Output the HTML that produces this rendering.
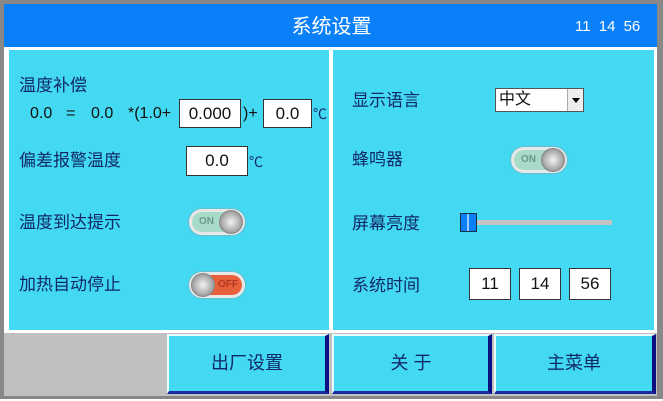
<!DOCTYPE html>
<html><head><meta charset="utf-8"><style>
*{margin:0;padding:0;box-sizing:border-box}
body{width:663px;height:401px;background:#fff;position:relative;overflow:hidden;font-family:"Liberation Sans","Noto Sans CJK SC",sans-serif;}
.a{position:absolute}
.t{position:absolute;color:#102868;font-size:17px;line-height:20px;white-space:nowrap}
.box{position:absolute;background:#fff;border:1px solid #333;color:#111;font-size:17px;text-align:center}
.tog{position:absolute;width:56px;height:26px;border-radius:13px;background:#e8e8e8;box-shadow:0 0 2px #999}
.tog .in{position:absolute;left:3px;top:3px;width:50px;height:20px;border-radius:10px}
.tog .k{position:absolute;top:1px;width:24px;height:24px;border-radius:12px;background:radial-gradient(circle at 50% 50%,#f4f4f4,#aaa 60%,#777);border:1px solid #888}
.tog .l{position:absolute;top:8px;font-size:10px;line-height:10px;font-weight:bold}
.btn{position:absolute;top:334px;height:60px;background:#44d9f2;border-left:2px solid #e8ffff;border-top:2px solid #e8ffff;border-right:4px solid #0a1080;border-bottom:3px solid #1a2aa0;color:#102868;font-size:18px;text-align:center;line-height:55px}
</style></head><body>
<div class="a" style="left:0;top:0;width:663px;height:399px;background:#888"></div>
<div class="a" style="left:4px;top:4px;width:653px;height:392px;background:#c0c0c0"></div>
<div class="a" style="left:4px;top:4px;width:653px;height:43px;background:#0a80f8"></div>
<div class="a" style="left:4px;top:47px;width:653px;height:286px;background:#fff"></div>
<div class="a" style="left:9px;top:50px;width:320px;height:280px;background:#44d9f2"></div>
<div class="a" style="left:333px;top:50px;width:321px;height:280px;background:#44d9f2"></div>
<div class="a" style="left:0;top:14px;width:663px;text-align:center;color:#fff;font-size:20px;line-height:26px">系统设置</div>
<div class="a" style="left:575px;top:18px;color:#fff;font-size:15px;line-height:18px;word-spacing:4px">11 14 56</div>

<div class="t" style="left:19px;top:76px">温度补偿</div>
<div class="t" style="left:30px;top:104px;color:#111;font-size:16px">0.0</div>
<div class="t" style="left:66px;top:104px;color:#111;font-size:16px">=</div>
<div class="t" style="left:91px;top:104px;color:#111;font-size:16px">0.0</div>
<div class="t" style="left:128px;top:104px;color:#111;font-size:16px">*(1.0+</div>
<div class="box" style="left:179px;top:99px;width:62px;height:29px;line-height:27px">0.000</div>
<div class="t" style="left:243px;top:104px;color:#111;font-size:16px">)+</div>
<div class="box" style="left:263px;top:99px;width:49px;height:29px;line-height:27px">0.0</div>
<div class="t" style="left:313px;top:104px;font-size:14px">℃</div>

<div class="t" style="left:19px;top:151px">偏差报警温度</div>
<div class="box" style="left:186px;top:146px;width:62px;height:30px;line-height:28px">0.0</div>
<div class="t" style="left:249px;top:152px;font-size:14px">℃</div>

<div class="t" style="left:19px;top:213px">温度到达提示</div>
<div class="tog" style="left:189px;top:209px"><div class="in" style="background:#a8dcc8"></div><div class="l" style="left:10px;color:#6a9a8a">ON</div><div class="k" style="left:30px"></div></div>

<div class="t" style="left:19px;top:275px">加热自动停止</div>
<div class="tog" style="left:189px;top:272px"><div class="in" style="background:#e8603a"></div><div class="l" style="left:29px;color:#b03820">OFF</div><div class="k" style="left:2px"></div></div>

<div class="t" style="left:352px;top:91px">显示语言</div>
<div class="a" style="left:495px;top:88px;width:89px;height:24px;background:#fff;border:1px solid #555;font-size:16px;line-height:22px;padding-left:3px;color:#111">中文</div>
<div class="a" style="left:567px;top:89px;width:16px;height:22px;background:#eee;border-left:1px solid #aaa"><div style="position:absolute;left:4px;top:9px;border-left:4px solid transparent;border-right:4px solid transparent;border-top:5px solid #000"></div></div>

<div class="t" style="left:352px;top:150px">蜂鸣器</div>
<div class="tog" style="left:511px;top:147px"><div class="in" style="background:#a8dcc8"></div><div class="l" style="left:10px;color:#6a9a8a">ON</div><div class="k" style="left:30px"></div></div>

<div class="t" style="left:352px;top:214px">屏幕亮度</div>
<div class="a" style="left:474px;top:220px;width:138px;height:5px;background:#c4c4c4"></div>
<div class="a" style="left:460px;top:213px;width:17px;height:19px;background:#0a80f8;border:1px solid #134"></div>
<div class="a" style="left:467px;top:214px;width:2px;height:17px;background:#9cf"></div>

<div class="t" style="left:352px;top:276px">系统时间</div>
<div class="box" style="left:469px;top:268px;width:42px;height:32px;line-height:30px">11</div>
<div class="box" style="left:519px;top:268px;width:42px;height:32px;line-height:30px">14</div>
<div class="box" style="left:569px;top:268px;width:42px;height:32px;line-height:30px">56</div>

<div class="btn" style="left:167px;width:162px">出厂设置</div>
<div class="btn" style="left:332px;width:160px">关 于</div>
<div class="btn" style="left:494px;width:162px">主菜单</div>
</body></html>
